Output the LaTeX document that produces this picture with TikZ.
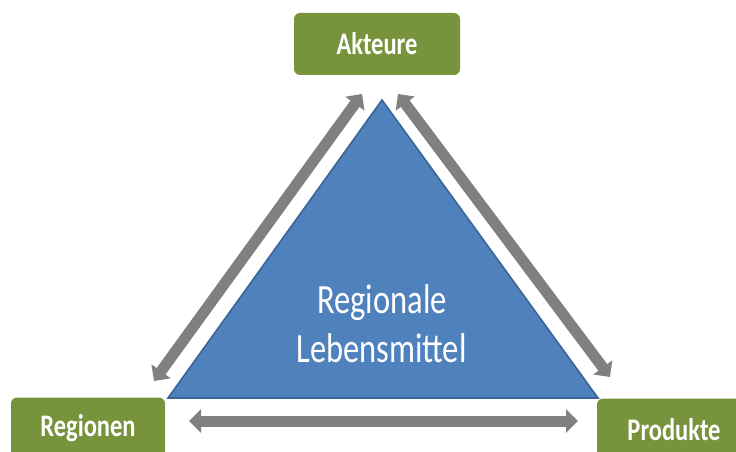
\documentclass[tikz,border=0pt]{standalone}
\usepackage{fontspec}
\setmainfont{Carlito}
\usetikzlibrary{arrows.meta}
\definecolor{boxgreen}{HTML}{77933C}
\definecolor{triblue}{HTML}{4F81BD}
\definecolor{triedge}{HTML}{3A6596}
\definecolor{arrowgray}{HTML}{808080}
\tikzset{
  greenbox/.style={fill=boxgreen, draw=none, rounded corners=6pt, minimum width=154pt, minimum height=62pt, inner sep=0pt, text=white, font=\fontsize{24.5}{28}\selectfont\bfseries},
  bigtext/.style={text=white, inner sep=0pt, anchor=base, font=\fontsize{32.5}{40}\selectfont},
  linkarrow/.style={draw=arrowgray, line width=11pt, {Triangle[length=12pt,width=23pt]}-{Triangle[length=12pt,width=23pt]}}
}
\newcommand{\vstretch}[1]{\scalebox{1}[1.28]{#1}}
\begin{document}
\begin{tikzpicture}[x=1pt,y=-1pt]
\useasboundingbox (0,0) rectangle (736,452);
\clip (0,0) rectangle (736,452);
% boxes
\node[greenbox, minimum width=166pt] (akteure) at (377,44) {\vstretch{Akteure}};
\node[greenbox] (regionen) at (88,428.5) {\vstretch{Regionen}};
\node[greenbox] (produkte) at (674,429.5) {\vstretch{Produkte}};
% triangle
\coordinate (apex) at (382,100);
\coordinate (bl) at (168,398);
\coordinate (br) at (598,398);
\draw[fill=triblue, draw=triedge, line width=1.6pt, line join=miter] (apex) -- (br) -- (bl) -- cycle;
\node[bigtext] (t1) at (382,313) {\vstretch{Regionale}};
\node[bigtext] (t2) at (381.5,362) {\vstretch{Lebensmittel}};
% arrows
\coordinate (la1) at (154,381);
\coordinate (la2) at (362,94);
\coordinate (ra1) at (398,94);
\coordinate (ra2) at (610,377);
\coordinate (ba1) at (189,421);
\coordinate (ba2) at (578,421);
\draw[linkarrow] (la1) -- (la2);
\draw[linkarrow] (ra1) -- (ra2);
\draw[linkarrow] (ba1) -- (ba2);
\end{tikzpicture}
\end{document}
